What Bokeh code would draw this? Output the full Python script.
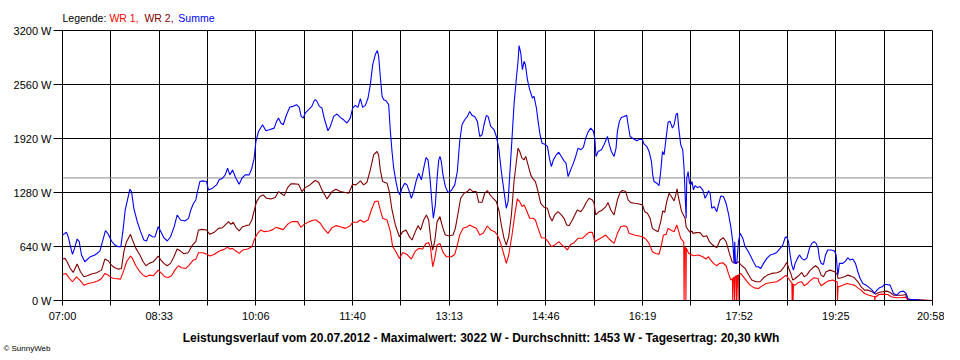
from bokeh.plotting import figure
from bokeh.layouts import column
from bokeh.models import Range1d, FixedTicker, Span
from bokeh.core.properties import value
from bokeh.embed import file_html
from bokeh.resources import INLINE

# ---------------- data ----------------
DATE = "20.07.2012"
MAX_W = 3022
AVERAGE_W = 1453
DAY_YIELD = "20,30"
SPAN_MINUTES = 838          # 07:00 .. 20:58
time_labels = ["07:00", "08:33", "10:06", "11:40", "13:13", "14:46", "16:19", "17:52", "19:25", "20:58"]
power_ticks = [0, 640, 1280, 1920, 2560, 3200]
series_names = ["WR 1", "WR 2", "Summe"]
series_colors = ["#ff0000", "#800000", "#0000ff"]

# minutes after 07:00 / watts
t_wr1 = [0, 3.2, 6.4, 9.6, 13.5, 16.7, 20.6, 24.7, 29.5, 34.4, 37.6, 40.8, 44, 47.2, 50.4, 55.9, 59.1, 61.7, 65.5, 67.4,
         70.7, 74.5, 77.7, 80.3, 84.2, 87.4, 92.2, 95.4, 98.6, 101.8, 105, 108.2, 111.5, 114.7, 118.8,
         122.0, 125.9, 128.4, 131.0, 134.9, 138.7, 141.9, 146.1, 150.9, 155.7, 159.0, 161.2, 163.8, 167.0, 170.2, 173.4, 178.2, 182.4, 184.6, 187.9,
         191.1, 194.3, 199.1, 203.0, 205.5, 208.7, 212.6, 216.8, 220.9, 226.4, 229.6, 232.8, 237.6, 242.1,
         244.2, 248.3, 251.5, 255.7, 259.6, 263.4, 267.6, 272.4, 277.2, 279.5, 283.7, 286.9, 290.1, 294.3, 297.5, 300.7, 303.9, 306.1, 308.4, 312.6,
         315.8, 318.0, 321.2, 324.5, 327.7, 331.8, 336.0, 339.9, 343.1, 346.9, 350.2, 352.7, 354.6, 356.6, 358.5, 360.8, 363.6,
         364.3, 366.5, 369.7, 374.5, 377.8, 380.3, 382.6, 385.8, 390.0, 392.2, 395.4, 398.6, 401.9, 405.1, 409.2, 412.5, 416.3, 418.9, 422.1, 425.3,
         427.5, 429.8, 433.0, 435.6, 438.1, 440.4, 442.6, 444.6, 446.8, 450.0, 453.2, 455.5, 458.1, 461.3, 465.1, 467.7, 470.9, 474.1, 478.0, 481.2, 485.0,
         486.3, 489.5, 492.7, 496.6, 500.8, 504.0, 507.2, 510.4, 512.7, 515.2, 519.1, 523.3, 526.5, 531.3, 534.5, 537.7, 540.9, 543.5, 545.7, 550.6,
         555.4, 558.6, 561.8, 565.0, 568.2, 571.4, 574.6, 576.9, 578.8, 581.4, 583.3, 585.9, 589.1, 591.7, 593.6, 595.5, 598.1, 598.4, 598.7, 599.1,
         600.2, 600.5, 600.9, 603.2, 606.4,
         607.7, 612.5, 616.7, 619.9, 622.2, 624.4, 627.0, 630.2, 632.8, 636.0, 639.2, 641.4, 643.7, 645.3, 645.6, 646.0, 647.0, 647.3, 647.7, 648.8,
         649.1, 649.5, 650.4, 650.7, 651.1, 653.3, 655.9, 659.1, 662.3, 666.2, 670.3, 673.6, 677.7, 683.2, 688.0, 692.8, 697.0, 699.3, 701.5, 702.5,
         702.8, 703.4, 703.7, 704.1, 705.7, 708.9, 712.1, 714.4, 717.6, 720.8, 724.0, 727.8,
         728.5, 730.7, 733.9, 737.1, 742.0, 745.2, 746.2, 746.5, 747.1, 747.7, 751.6, 755.5, 759.6, 762.8, 766.1, 769.3, 772.5, 776.7, 780.5, 782.1,
         782.4, 782.8, 783.7, 786.3, 790.1, 795.0, 798.2, 803.0, 807.8, 812.0, 814.2, 838]
wr1 = [309, 321, 269, 222, 281, 242, 182, 202, 214, 234, 261, 321, 301, 269, 261, 253, 360, 459, 527, 499,
       412, 341, 301, 281, 301, 293, 360, 321, 281, 273, 293, 360, 412, 388, 380,
       420, 479, 487, 566, 566, 550, 527, 546, 586, 606, 630, 610, 618, 586, 558, 598, 610, 638, 717, 796,
       836, 816, 824, 843, 867, 855, 840, 903, 935, 935, 867, 903, 935, 954,
       954, 915, 855, 796, 863, 887, 875, 855, 887, 927, 927, 954, 927, 954, 1073, 1172, 1180, 1073, 974, 954,
       816, 638, 578, 499, 570, 546, 491, 586, 618, 610, 677, 685, 618, 400, 499, 657, 677,
       649, 570, 519, 519, 546, 657, 776, 855, 875, 895, 875, 855, 776, 796, 883, 836, 816, 776, 677, 539,
       440, 539, 776, 1014, 1204, 1172, 1113, 1133, 1073, 974, 974, 954, 855, 744, 737, 697, 638, 657, 697, 657, 618,
       598, 665, 685, 737, 737, 776, 808, 808, 697, 717, 744, 776, 729, 677, 796, 875, 887, 875, 796, 776,
       764, 756, 729, 677, 578, 558, 550, 657, 776, 784, 855, 836, 816, 895, 816, 737, 697, 690, 0, 630,
       625, 0, 618, 558, 539,
       531, 539, 519, 491, 519, 479, 440, 412, 440, 447, 412, 321, 242, 260, 0, 270, 275, 0, 280, 290,
       0, 295, 300, 0, 301, 321, 281, 230, 182, 150, 143, 170, 202, 214, 222, 261, 301, 261, 222, 215,
       0, 200, 0, 190, 182, 214, 222, 174, 202, 242, 269, 261,
       222, 174, 202, 230, 242, 222, 225, 0, 165, 162, 182, 202, 190, 182, 150, 123, 83, 63, 51, 48,
       0, 46, 44, 71, 75, 71, 44, 32, 32, 40, 8, 0]

t_wr2 = [0, 2.3, 4.5, 7.1, 10.3, 14.1, 17.3, 20.6, 23.8, 27.9, 32.8, 37.6, 40.8, 44.0, 47.2, 50.4, 53.6, 56.8, 59.1, 61.7,
         65.5, 67.4, 70.7, 74.5, 77.7, 80.3, 83.5, 87.4, 92.2, 94.8, 97.6, 100.9, 104.1, 107.3, 110.5, 113.7, 116.9, 120.8,
         122.0, 125.2, 128.4, 131.0, 134.2, 138.7, 141.9, 146.1, 150.3, 154.1, 157.3, 159.9, 162.2, 164.4, 167.0, 170.2, 173.4, 176.6, 179.8, 182.4,
         184.6, 186.9, 190.1, 193.3, 196.5, 200.7, 204.9, 208.1, 210.3, 213.6, 216.8, 220.0, 223.2, 227.4, 230.6, 233.8, 238.3, 242.1,
         243.5, 246.7, 249.9, 254.8, 259.6, 263.4, 267.6, 272.4, 275.6, 279.5, 282.7, 286.9, 290.1, 293.3, 296.5, 299.7, 302.9, 304.5, 306.1, 308.4,
         312.6, 314.8, 317.4, 320.6, 324.5, 327.7, 330.9, 334.1, 336.7, 339.9, 342.4, 345.0, 347.9, 350.5, 352.7, 354.6, 356.6, 358.5, 360.8, 363.6,
         364.3, 366.5, 368.8, 372.0, 376.2, 378.4, 381.0, 383.5, 386.8, 390.0, 392.2, 395.4, 398.6, 400.9, 404.1, 406.7, 409.2, 411.5, 414.7, 417.9,
         420.5, 422.7, 425.3, 427.5, 429.8, 432.4, 434.9, 437.2, 438.8, 440.4, 442.6, 444.6, 446.2, 448.4, 451.0, 453.2, 455.5, 458.1, 460.6, 463.8,
         467.1, 469.3, 471.6, 474.1, 477.3, 480.5, 483.1, 485.0,
         485.7, 487.9, 491.1, 494.3, 495.9, 499.2, 501.7, 504.0, 507.2, 510.4, 512.0, 513.6, 516.8, 520.0, 523.3, 525.5, 528.1, 531.3, 534.5, 537.1,
         539.3, 542.5, 544.8, 547.3, 551.2, 555.4, 558.6, 560.8, 563.4, 566.0, 568.2, 570.5, 573.7, 576.2, 578.2, 580.1, 582.0, 584.3, 586.5, 589.1,
         590.7, 592.0, 592.9, 594.2, 596.2, 598.1, 599.7, 600.7, 602.6, 604.5, 606.4,
         607.1, 610.3, 614.1, 617.3, 620.6, 623.1, 626.3, 630.2, 633.4, 636.6, 639.2, 642.4, 645.0, 647.9, 651.1, 654.3, 657.5, 660.7, 663.9, 668.1,
         672.0, 675.2, 679.0, 683.2, 688.0, 691.9, 695.1, 697.6, 699.6, 701.5, 703.4, 705.7, 708.9, 712.1, 714.4, 716.9, 719.5, 722.7, 725.3, 727.8,
         728.5, 730.7, 733.0, 735.5, 739.4, 743.6, 745.8, 747.1, 750.0, 753.2, 756.4, 759.6, 762.8, 766.1, 769.3, 772.5, 775.7, 779.9, 783.1, 786.3,
         790.1, 794.0, 797.2, 800.4, 804.6, 808.8, 812.0, 814.2, 819.0, 838]
wr2 = [491, 499, 459, 388, 333, 432, 341, 281, 293, 313, 329, 360, 491, 471, 420, 388, 372, 380, 578, 697,
       784, 717, 618, 539, 459, 412, 440, 459, 527, 479, 440, 412, 440, 519, 610, 586, 554, 566,
       586, 657, 697, 836, 843, 836, 784, 808, 855, 863, 903, 935, 903, 927, 867, 824, 875, 887, 895, 954,
       1061, 1172, 1232, 1251, 1212, 1204, 1220, 1291, 1271, 1243, 1338, 1382, 1382, 1378, 1291, 1338, 1370, 1410,
       1422, 1402, 1311, 1204, 1291, 1319, 1291, 1279, 1271, 1378, 1370, 1418, 1370, 1402, 1548, 1727, 1766, 1727, 1548, 1410,
       1390, 1291, 1073, 895, 756, 816, 836, 756, 717, 816, 887, 836, 954, 1014, 954, 737, 598, 697, 935, 994,
       954, 855, 776, 768, 776, 855, 1034, 1212, 1271, 1291, 1323, 1291, 1291, 1164, 1164, 1271, 1303, 1259, 1212, 1172,
       1061, 895, 737, 657, 756, 1014, 1410, 1647, 1806, 1766, 1687, 1667, 1707, 1608, 1489, 1441, 1410, 1291, 1152, 1105,
       1093, 994, 942, 1014, 1053, 1014, 974, 915,
       895, 887, 954, 1034, 1073, 1053, 1093, 1152, 1212, 1192, 1152, 1014, 1053, 1073, 1113, 1160, 1073, 1014, 1192, 1283,
       1303, 1291, 1192, 1160, 1152, 1144, 1133, 1053, 1034, 974, 855, 836, 816, 935, 1061, 1045, 1172, 1271, 1232, 1180,
       1251, 1323, 1251, 1172, 1061, 1014, 974, 875, 836, 808, 824,
       796, 804, 804, 756, 768, 697, 657, 626, 717, 744, 697, 558, 459, 440, 459, 412, 380, 309, 242, 222,
       222, 269, 301, 321, 329, 348, 400, 451, 380, 321, 242, 261, 293, 333, 281, 301, 348, 388, 412, 388,
       372, 301, 281, 341, 360, 341, 321, 261, 269, 281, 301, 289, 269, 222, 162, 123, 123, 103, 75, 95,
       103, 111, 95, 63, 63, 63, 71, 16, 8, 0]

t_sum = [0, 3.9, 5.5, 7.7, 9.6, 11.6, 14.1, 16.1, 18.3, 21.5, 26.3, 31.2, 36.0, 38.5, 41.4, 44.0, 47.2, 50.4, 53.6, 56.2,
         58.5, 60.4, 62.6, 64.9, 66.5, 68.7, 72.0, 75.2, 78.4, 80.9, 83.5, 86.7, 89.0, 92.2, 94.8, 97.6, 100.9, 104.1, 107.6, 110.5,
         113.7, 117.9,
         121.4, 123.6, 125.9, 128.4, 130.0, 132.3, 134.9, 138.7, 140.6, 144.5, 148.4, 150.9, 154.1, 156.7, 159.0, 161.2, 163.8, 167.0, 170.2, 172.8,
         176.0, 179.8, 182.4, 184.6, 186.3, 188.8, 192.7, 195.9, 199.1, 203.9, 206.2, 208.1, 210.3, 212.6, 215.8, 219.0, 222.2, 225.4, 228.0, 229.9,
         231.9, 233.8, 237.0, 240.2, 242.1,
         243.5, 245.1, 247.4, 249.9, 252.5, 255.7, 258.0, 261.2, 264.4, 267.6, 270.8, 274.0, 277.2, 279.5, 282.1, 284.6, 286.9, 289.1, 291.7, 294.3,
         296.5, 298.8, 301.3, 303.3, 304.5, 306.1, 307.8, 309.4, 311.6, 314.2, 315.8, 317.4, 319.0, 321.2, 323.2, 325.1, 327.0, 329.6, 331.8, 334.1,
         336.0, 338.3, 340.5, 343.1, 345.7, 347.9, 350.2, 352.1, 354.0, 355.9, 357.2, 359.1, 360.8, 362.4, 363.6,
         364.9, 366.5, 368.8, 371.3, 374.5, 377.8, 380.3, 382.6, 384.8, 387.4, 390.0, 392.2, 394.5, 397.0, 399.6, 401.9, 404.1, 406.0, 408.3, 409.9,
         412.5, 415.7, 417.9, 420.2, 422.7, 425.3, 427.5, 429.2, 430.8, 433.0, 434.9, 437.2, 438.8, 439.8, 441.4, 443.0, 444.6, 445.9, 447.8, 450.0,
         452.6, 454.2, 456.5, 458.1, 460.0, 461.9, 464.5, 467.1, 469.0, 470.9, 472.8, 475.7, 478.0, 480.5, 483.1, 485.0,
         487.0, 489.5, 492.1, 494.3, 496.6, 499.2, 501.7, 504.0, 506.2, 508.8, 511.4, 512.7, 513.9, 515.9, 519.1, 521.6, 524.9, 526.8, 528.7, 531.3,
         533.2, 534.5, 536.4, 538.3, 540.9, 543.5, 544.8, 546.7, 549.9, 553.1, 556.3, 558.6, 560.2, 562.8, 565.0, 567.3, 568.5, 569.8, 572.4, 574.6,
         576.2, 577.9, 579.5, 581.4, 583.3, 585.2, 587.5, 589.1, 591.0, 592.3, 593.6, 595.5, 597.4, 598.7, 600.0, 600.7, 601.3, 602.6, 603.9, 605.2,
         606.4,
         607.7, 609.3, 611.6, 614.1, 616.7, 619.0, 620.6, 622.2, 623.8, 625.4, 627.6, 630.2, 631.8, 634.1, 636.6, 639.2, 641.4, 643.7, 645.6, 646.9,
         647.5, 648.2, 649.5, 651.1, 652.7, 655.3, 657.5, 659.7, 662.3, 665.5, 668.1, 670.3, 672.6, 675.2, 678.4, 681.6, 684.8, 688.0, 691.2, 693.8,
         696.0, 697.6, 699.3, 700.9, 702.5, 704.1, 705.7, 707.9, 709.9, 712.1, 714.4, 716.9, 719.5, 721.7, 724.0, 725.9, 727.8,
         729.1, 730.7, 733.0, 734.9, 737.1, 740.4, 743.6, 745.2, 746.8, 748.4, 751.6, 754.2, 756.4, 758.7, 761.2, 763.8, 766.1, 768.3, 770.9, 774.1,
         777.3, 779.9, 782.1, 784.4, 786.9, 789.5, 791.7, 794.0, 797.2, 800.4, 803.6, 806.8, 810.1, 812.6, 814.5, 817.4, 822.3, 825.5, 831.9, 838]
summe = [776, 808, 756, 638, 546, 618, 729, 697, 539, 459, 515, 539, 586, 697, 828, 788, 705, 657, 638, 638,
         855, 1073, 1192, 1319, 1291, 1093, 935, 816, 717, 705, 784, 756, 752, 875, 816, 744, 705, 756, 875, 1014,
         954, 942,
         974, 1073, 1144, 1192, 1291, 1410, 1418, 1410, 1311, 1331, 1370, 1430, 1449, 1489, 1568, 1489, 1548, 1449, 1378, 1449,
         1489, 1489, 1568, 1687, 1885, 2004, 2083, 2012, 2024, 2043, 2123, 2162, 2103, 2083, 2202, 2293, 2301, 2321, 2289, 2182,
         2162, 2222, 2261, 2301, 2360,
         2380, 2360, 2301, 2281, 2142, 2012, 2063, 2182, 2210, 2170, 2142, 2103, 2162, 2281, 2313, 2289, 2392, 2289, 2313, 2400,
         2558, 2796, 2915, 2962, 2895, 2657, 2420, 2380, 2368, 2321, 2004, 1766, 1568, 1410, 1291, 1251, 1331, 1390, 1370, 1291,
         1212, 1291, 1410, 1509, 1430, 1568, 1695, 1667, 1449, 1152, 974, 1133, 1449, 1667, 1707,
         1647, 1489, 1350, 1279, 1303, 1370, 1529, 1885, 2083, 2142, 2182, 2241, 2194, 2182, 2123, 1944, 1964, 2083, 2194, 2182,
         2063, 2024, 1944, 1806, 1529, 1291, 1093, 1172, 1489, 1925, 2321, 2637, 2835, 3022, 2934, 2736, 2835, 2796, 2618, 2499,
         2400, 2420, 2281, 2123, 1964, 1865, 1853, 1826, 1687, 1588, 1667, 1727, 1758, 1707, 1655, 1628,
         1469, 1548, 1628, 1707, 1806, 1786, 1814, 1925, 1996, 2043, 2004, 1925, 1707, 1766, 1786, 1845, 1944, 1845, 1766, 1707,
         1806, 2004, 2123, 2170, 2182, 2194, 2083, 1944, 1917, 1893, 1913, 1905, 1853, 1826, 1766, 1647, 1489, 1410, 1390, 1362,
         1529, 1766, 1727, 1925, 2115, 2123, 2043, 2083, 2202, 2222, 2043, 1845, 1786, 1568, 1172, 974, 1449, 1529, 1390, 1370,
         1410,
         1311, 1362, 1338, 1350, 1311, 1212, 1251, 1299, 1271, 1093, 1113, 1053, 1133, 1239, 1232, 1152, 1034, 875, 697, 440,
         697, 440, 440, 697, 796, 737, 638, 598, 539, 459, 400, 400, 380, 440, 499, 539, 550, 570, 618, 657,
         744, 756, 697, 539, 420, 360, 440, 499, 539, 499, 479, 499, 618, 677, 697, 677, 618,
         499, 440, 428, 539, 598, 598, 586, 539, 301, 440, 440, 467, 507, 479, 491, 440, 341, 261, 202, 182,
         150, 123, 83, 123, 150, 162, 190, 190, 182, 83, 63, 103, 111, 83, 16, 12, 12, 4, 0, 0]

# ---------------- layout constants ----------------
FONT = "Liberation Sans"
PAGE_W = 944
FRAME_L = 61
FRAME_W = 870
TOP_H = 24
BOTTOM_H = 34


def text_strip(height, with_left_axis=False):
    # the column aligns this strip's frame with the main frame, so the x range
    # is given in page pixels of that frame
    f = figure(width=PAGE_W, height=height,
               x_range=Range1d(FRAME_L, FRAME_L + FRAME_W), y_range=Range1d(height, 0),
               x_axis_type=None, y_axis_type="linear" if with_left_axis else None, min_border=0,
               output_backend="svg", toolbar_location=None)
    f.outline_line_color = None
    f.background_fill_color = "white"
    f.border_fill_color = "white"
    f.xgrid.visible = False
    f.ygrid.visible = False
    return f


# ---------------- legend strip ----------------
top = text_strip(TOP_H)
legend_texts = ["Legende:"] + [n + "," for n in series_names[:-1]] + [series_names[-1]]
legend_colors = ["black"] + series_colors
legend_x = [61, 108, 143, 177]
top.text(x=legend_x, y=[17] * 4, text=legend_texts, text_color=legend_colors,
         text_font=value(FONT), text_font_size="10.5px", text_baseline="middle", text_align="left")

# ---------------- main chart ----------------
p = figure(frame_width=FRAME_W, frame_height=270,
           min_border_left=FRAME_L, min_border_right=PAGE_W - FRAME_L - FRAME_W, min_border_top=6, min_border_bottom=24,
           x_range=Range1d(0, SPAN_MINUTES), y_range=Range1d(power_ticks[0], power_ticks[-1]),
           output_backend="svg", toolbar_location=None)
p.background_fill_color = "white"
p.border_fill_color = "white"
p.outline_line_color = "black"
p.outline_line_width = 1

n_lab = len(time_labels) - 1
grid_ticks = [i * SPAN_MINUTES / (2 * n_lab) for i in range(2 * n_lab + 1)]
overrides = {}
for i, tk in enumerate(grid_ticks):
    overrides[tk] = time_labels[i // 2] if i % 2 == 0 else ""

xa = p.xaxis[0]
xa.ticker = FixedTicker(ticks=grid_ticks)
xa.major_label_overrides = overrides
xa.minor_tick_line_color = None
xa.major_tick_out = 5
xa.major_tick_in = 0
xa.major_label_standoff = 4
xa.axis_line_color = "black"
xa.major_tick_line_color = "black"
xa.major_label_text_font = FONT
xa.major_label_text_font_size = "11px"
xa.major_label_text_color = "black"

ya = p.yaxis[0]
ya.ticker = FixedTicker(ticks=power_ticks)
ya.major_label_overrides = {v: f"{v} W" for v in power_ticks}
ya.minor_tick_line_color = None
ya.major_tick_out = 9
ya.major_tick_in = 0
ya.major_label_standoff = 2
ya.axis_line_color = "black"
ya.major_tick_line_color = "black"
ya.major_label_text_font = FONT
ya.major_label_text_font_size = "11px"
ya.major_label_text_color = "black"

p.xgrid[0].ticker = FixedTicker(ticks=grid_ticks)
p.ygrid[0].ticker = FixedTicker(ticks=power_ticks)
for g in (p.xgrid[0], p.ygrid[0]):
    g.grid_line_color = "black"
    g.grid_line_alpha = 1.0
    g.grid_line_width = 1

avg = Span(location=AVERAGE_W, dimension="width", line_color="#8c8c8c", line_width=1, level="underlay")
p.add_layout(avg)

p.line(t_wr2, wr2, line_color=series_colors[1], line_width=1.1)
p.line(t_wr1, wr1, line_color=series_colors[0], line_width=1.1)
p.line(t_sum, summe, line_color=series_colors[2], line_width=1.1)

# ---------------- footer strip ----------------
bottom = text_strip(BOTTOM_H, with_left_axis=True)
title = (f"Leistungsverlauf vom {DATE} - Maximalwert: {MAX_W} W - "
         f"Durchschnitt: {AVERAGE_W} W - Tagesertrag: {DAY_YIELD} kWh")
bottom.text(x=[480], y=[13], text=[title], text_color="black", text_font=value(FONT),
            text_font_size="12px", text_font_style="bold", text_align="center", text_baseline="middle")
# copyright note sits left of the frame: drawn as the strip's single y tick label
cy = bottom.yaxis[0]
cy.ticker = FixedTicker(ticks=[24])
cy.major_label_overrides = {24: "\u00a9 SunnyWeb"}
cy.axis_line_color = None
cy.major_tick_line_color = None
cy.minor_tick_line_color = None
cy.major_tick_out = 0
cy.major_tick_in = 0
cy.major_label_standoff = 12
cy.major_label_text_font = FONT
cy.major_label_text_font_size = "8px"
cy.major_label_text_color = "black"

layout = column(top, p, bottom, spacing=0)
open("out.html", "w").write(file_html(layout, INLINE))
